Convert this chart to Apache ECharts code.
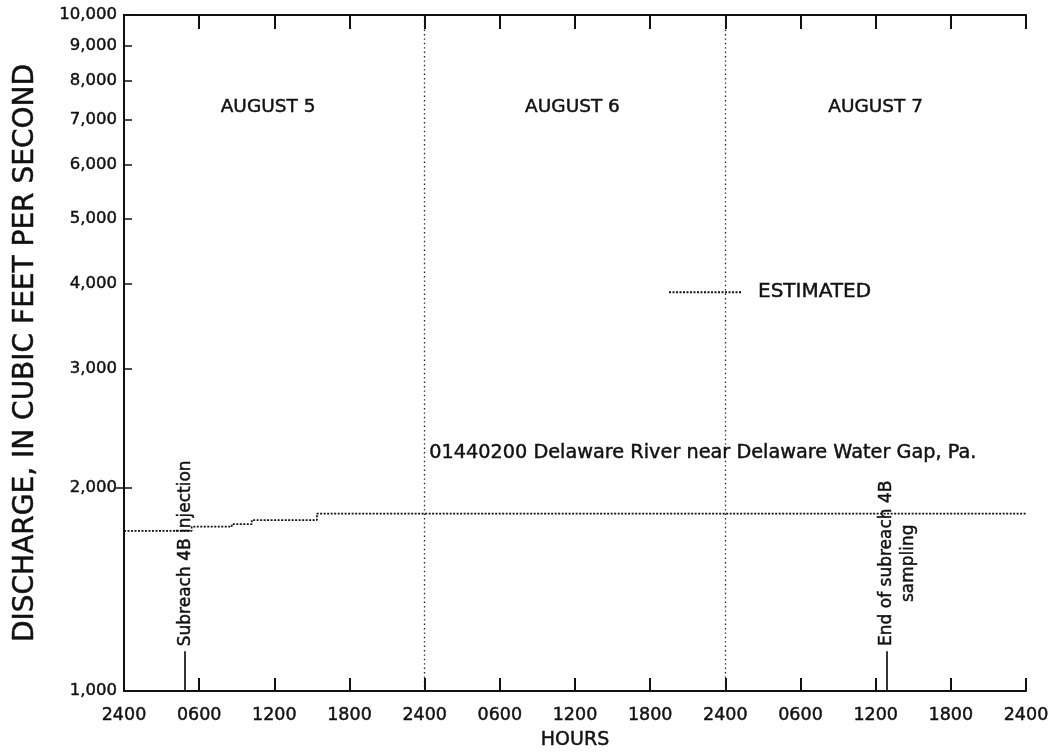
<!DOCTYPE html>
<html>
<head>
<meta charset="utf-8">
<title>Delaware River discharge, August 5-7</title>
<script src="https://cdn.jsdelivr.net/npm/echarts@6/dist/echarts.min.js"></script>
<style>
  html, body { margin: 0; padding: 0; background: #fff; }
  #chart { width: 1055px; height: 753px; }
</style>
</head>
<body>
<div id="chart"></div>
<script>
// Hourly discharge record, drawn as a stepped line (hours from midnight starting August 5)
const hours = [0, 5.4, 8.6, 10.2, 15.4, 72];
const discharge = [1725, 1750, 1765, 1790, 1830, 1830];

// Axis ticks
const hourTicks = ['2400', '0600', '1200', '1800', '2400', '0600', '1200', '1800', '2400', '0600', '1200', '1800', '2400'];
const dischargeTicks = [1000, 2000, 3000, 4000, 5000, 6000, 7000, 8000, 9000, 10000];

// Day boundaries and day labels
const dayBreaks = [24, 48];
const dayNames = ['AUGUST 5', 'AUGUST 6', 'AUGUST 7'];
const dayLabelHours = [11.5, 35.8, 60];
const dayLabelLevel = 7300;

// Sampling events marked along the bottom axis
const eventHours = [4.87, 60.85];
const eventNames = ['Subreach 4B injection', 'End of subreach 4B\nsampling'];
const eventTickTop = 1145;

const stationName = '01440200 Delaware River near Delaware Water Gap, Pa.';
const stationLabelAt = [46.2, 2250];

const FONT = 'DejaVu Sans';
const INK = '#111';
// slight outline so the lettering reads with a medium weight
const heavy = { textBorderColor: INK, textBorderWidth: 0.45 };

const chart = echarts.init(document.getElementById('chart'), null, { renderer: 'canvas' });

const fmtThousands = v => Math.round(v).toLocaleString('en-US');

const option = {
  animation: false,
  backgroundColor: '#fff',
  textStyle: { fontFamily: FONT, color: INK },
  grid: { left: 124, right: 29, top: 15, bottom: 62, containLabel: false, outerBoundsMode: 'none' },
  legend: {
    data: ['ESTIMATED'],
    left: 663,
    top: 277,
    itemWidth: 72,
    itemHeight: 14,
    itemStyle: { opacity: 0 },
    textStyle: Object.assign({ fontFamily: FONT, fontSize: 20, color: INK, padding: [0, 0, 15, 12] }, heavy)
  },
  xAxis: [
    {
      type: 'value', min: 0, max: 72, interval: 6,
      name: 'HOURS', nameLocation: 'middle', nameGap: 40,
      nameTextStyle: Object.assign({ fontFamily: FONT, fontSize: 19, color: INK }, heavy),
      axisLine: { show: true, lineStyle: { color: INK, width: 2 } },
      axisTick: { show: true, inside: true, length: 13, lineStyle: { color: INK, width: 2 } },
      axisLabel: Object.assign({
        fontFamily: FONT, fontSize: 17.5, color: INK, margin: 15,
        formatter: v => hourTicks[Math.round(v / 6)]
      }, heavy),
      splitLine: { show: false }
    },
    {
      type: 'value', min: 0, max: 72, interval: 6, position: 'top',
      axisLine: { show: true, onZero: false, lineStyle: { color: INK, width: 2 } },
      axisTick: { show: true, inside: true, length: 14, lineStyle: { color: INK, width: 2 } },
      axisLabel: { show: false },
      splitLine: { show: false }
    }
  ],
  yAxis: [
    {
      type: 'log', logBase: 10, min: 1000, max: 10000,
      name: 'DISCHARGE, IN CUBIC FEET PER SECOND', nameLocation: 'middle', nameGap: 84,
      nameTextStyle: Object.assign({ fontFamily: FONT, fontSize: 28, color: INK }, heavy),
      axisLine: { show: true, lineStyle: { color: INK, width: 2 } },
      axisTick: { show: true, inside: true, length: 8, customValues: dischargeTicks, lineStyle: { color: INK, width: 1.5 } },
      axisLabel: Object.assign({
        fontFamily: FONT, fontSize: 16.5, color: INK, margin: 7,
        customValues: dischargeTicks,
        formatter: v => fmtThousands(v)
      }, heavy),
      splitLine: { show: false },
      minorTick: { show: false }
    },
    {
      type: 'log', logBase: 10, min: 1000, max: 10000, position: 'right',
      axisLine: { show: true, lineStyle: { color: INK, width: 2 } },
      axisTick: { show: true, inside: true, length: 8, customValues: [2000], lineStyle: { color: INK, width: 1.5 } },
      axisLabel: { show: false, customValues: [2000] },
      splitLine: { show: false }
    }
  ],
  series: [
    {
      name: 'ESTIMATED',
      type: 'line',
      step: 'end',
      symbol: 'none',
      data: hours.map((h, i) => [h, discharge[i]]),
      lineStyle: { color: INK, width: 1.8, type: [2, 1.5] },
      itemStyle: { color: INK },
      markLine: {
        silent: true,
        symbol: ['none', 'none'],
        label: { show: false },
        data: [
          ...dayBreaks.map(h => ({ xAxis: h, lineStyle: { color: '#222', width: 1.3, type: [1.4, 3] } })),
          ...eventHours.map(h => [
            { coord: [h, 1000], lineStyle: { color: INK, width: 1.7, type: 'solid' } },
            { coord: [h, eventTickTop] }
          ])
        ]
      },
      markPoint: {
        silent: true,
        symbol: 'circle',
        symbolSize: 0,
        data: [
          ...dayNames.map((name, i) => ({
            coord: [dayLabelHours[i], dayLabelLevel],
            label: Object.assign({ show: true, formatter: name, fontFamily: FONT, fontSize: 18.5, color: INK, position: 'inside' }, heavy)
          })),
          {
            coord: stationLabelAt,
            label: Object.assign({ show: true, formatter: stationName, fontFamily: FONT, fontSize: 19.3, color: INK, position: 'inside' }, heavy)
          },
          {
            coord: [eventHours[0], eventTickTop],
            label: Object.assign({
              show: true, formatter: eventNames[0], fontFamily: FONT, fontSize: 17, color: INK,
              position: [0, 0], rotate: 90, align: 'left', verticalAlign: 'middle', offset: [5, 1]
            }, heavy)
          },
          {
            coord: [eventHours[1], eventTickTop],
            label: Object.assign({
              show: true, formatter: eventNames[1], fontFamily: FONT, fontSize: 17, color: INK, lineHeight: 22,
              position: [0, 0], rotate: 90, align: 'center', verticalAlign: 'middle', offset: [88, 11]
            }, heavy)
          }
        ]
      }
    }
  ]
};

chart.setOption(option);
</script>
</body>
</html>
